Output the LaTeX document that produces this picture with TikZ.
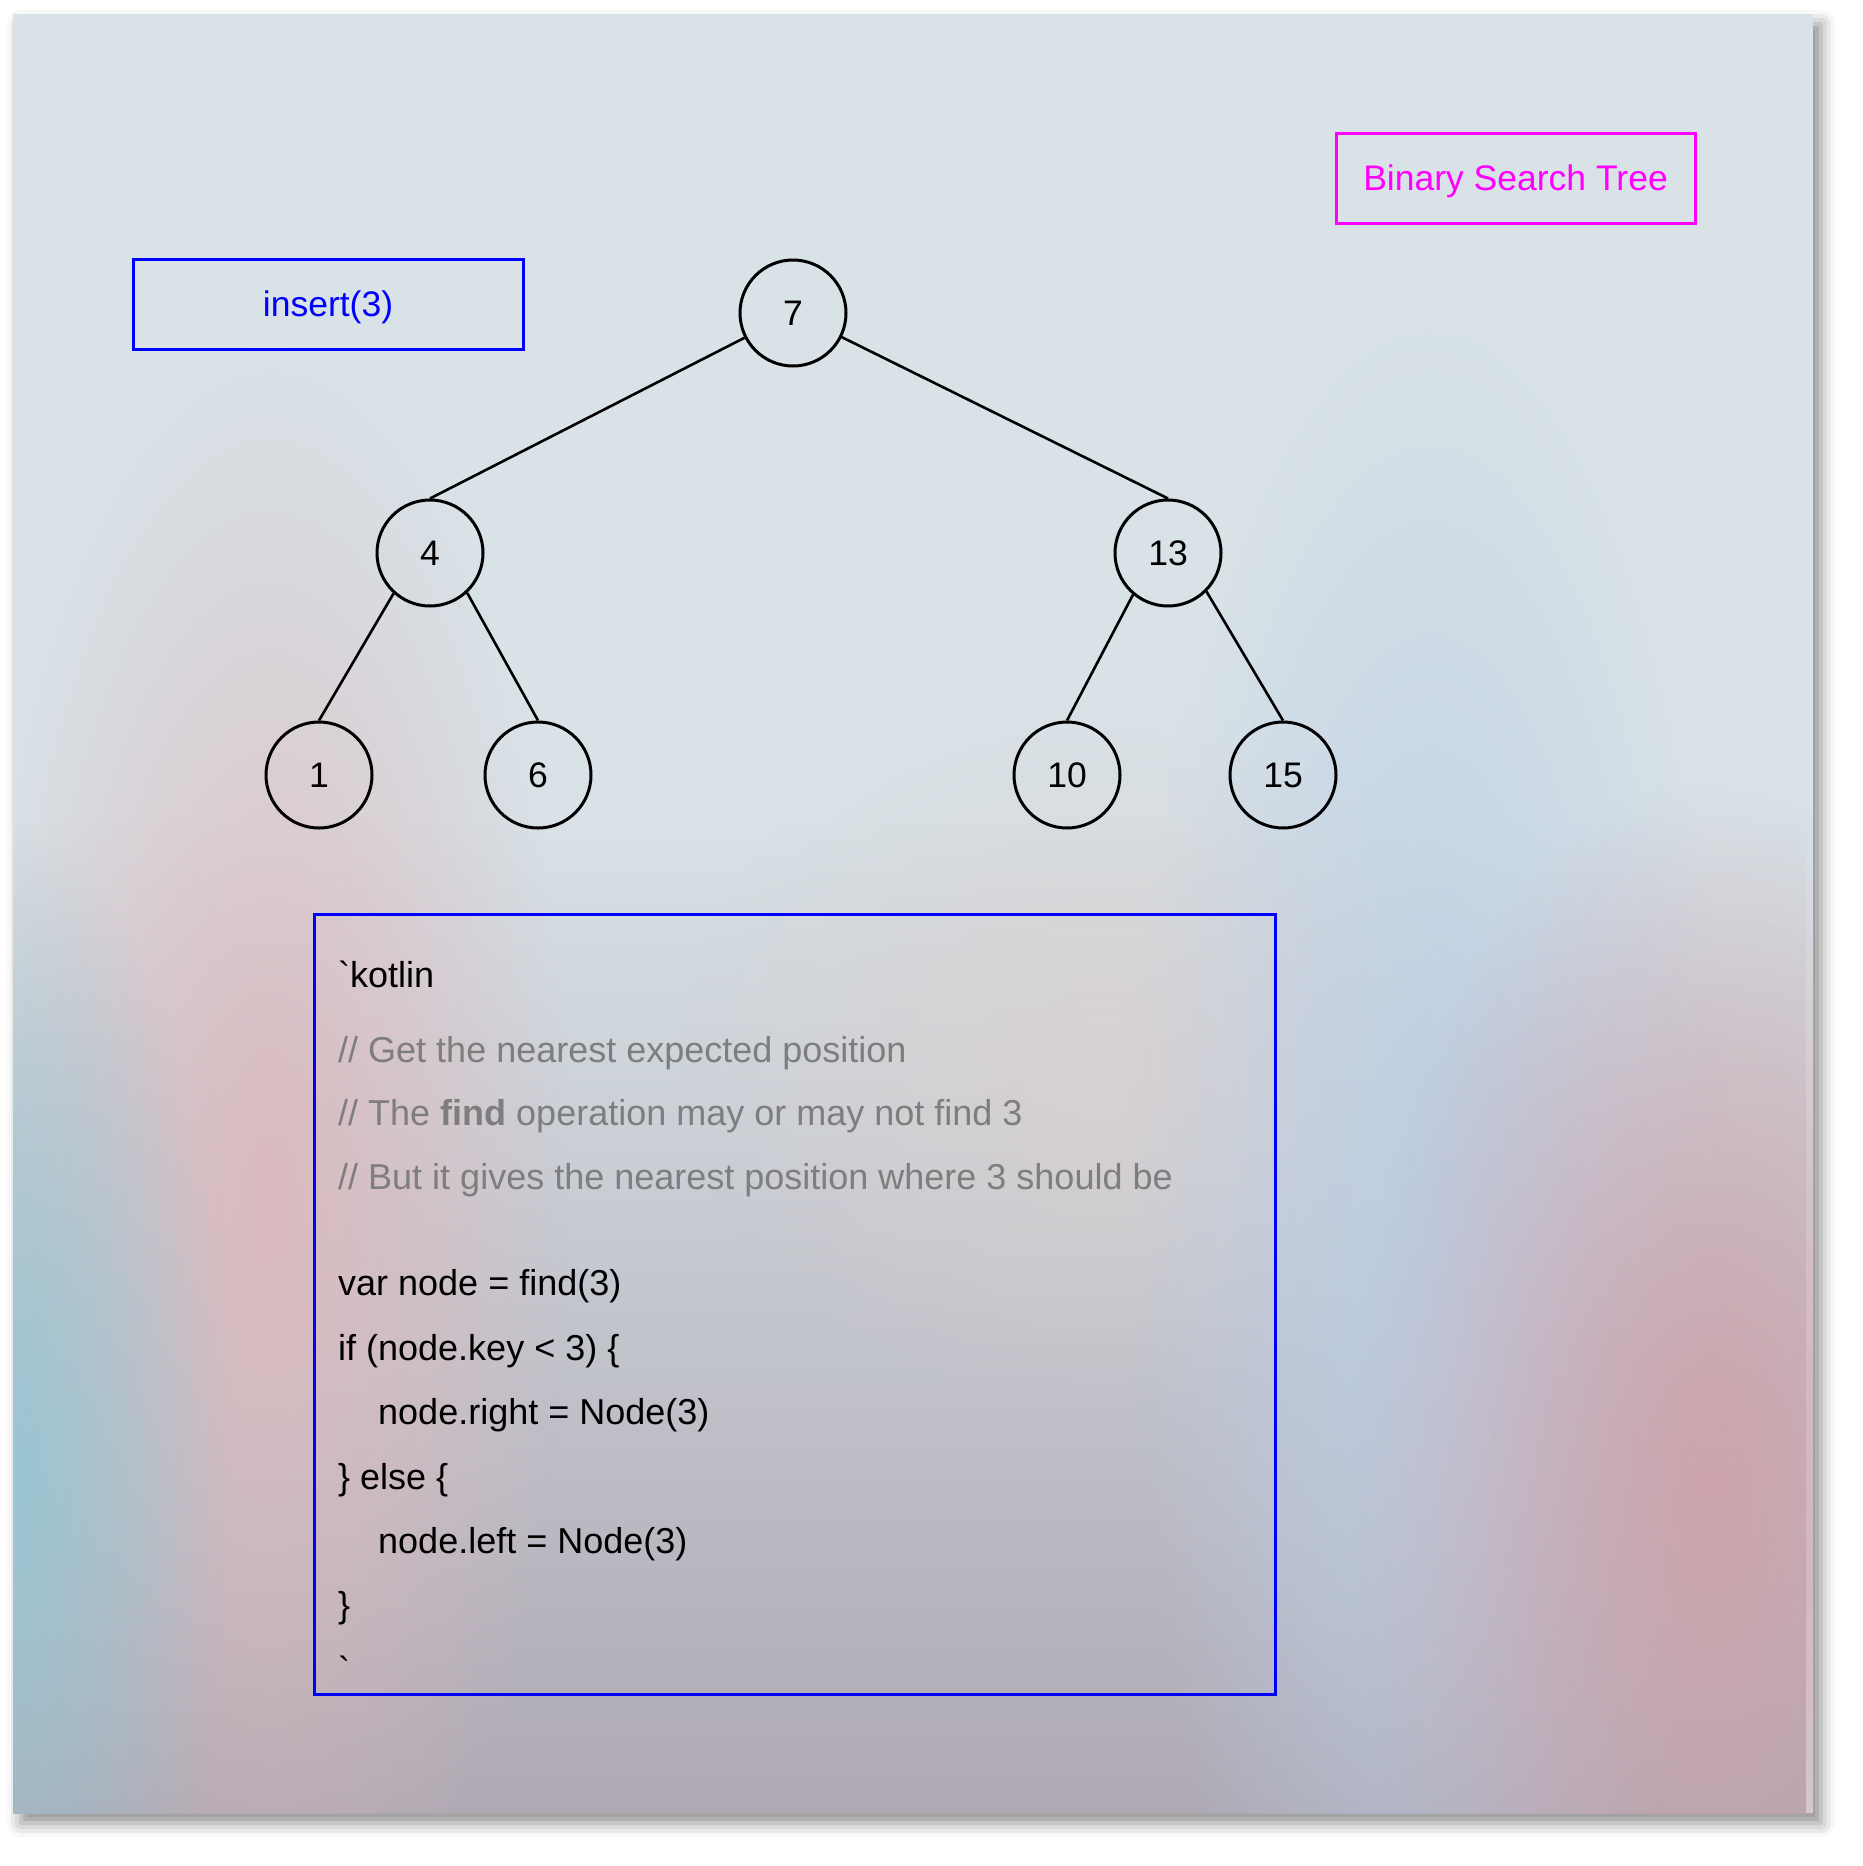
\documentclass[tikz,border=0pt]{standalone}
\usepackage{fontspec}
\newfontfamily\hv{Liberation Sans}
\usetikzlibrary{shadows.blur,fadings}
\definecolor{bgtop}{HTML}{D8E2E7}
\definecolor{bgbot}{HTML}{ABA4AF}
\definecolor{blobpink}{HTML}{DDB9BD}
\definecolor{blobcyan}{HTML}{9AC6D3}
\definecolor{blobblue}{HTML}{BBCFE6}
\definecolor{blobred}{HTML}{CFA1A9}
\definecolor{blobbeige}{HTML}{DCD0CE}
\definecolor{commentgray}{HTML}{7E7E7E}
\definecolor{bstblue}{HTML}{0000FF}
\definecolor{bstmagenta}{HTML}{FF00FF}
\tikzfading[name=blob, inner color=transparent!0, outer color=transparent!100]
\tikzset{
  txt/.style={font=\hv\fontsize{35.5}{42}\selectfont, inner sep=0pt},
  codetxt/.style={font=\hv\fontsize{36}{43}\selectfont, inner sep=0pt},
  bstnode/.style={txt, circle, draw=black, line width=3pt, minimum size=106pt, text height=25pt, text depth=0pt},
  edge/.style={draw=black, line width=2.6pt},
  labelbox/.style={txt, rectangle, line width=3pt, text height=25.5pt, text depth=0pt},
  codeline/.style={codetxt, anchor=base west, text=black},
  commentline/.style={codetxt, anchor=base west, text=commentgray},
}
\begin{document}
\begin{tikzpicture}[x=1pt,y=-1pt]
\useasboundingbox (0,0) rectangle (1863,1866);
% panel with shadow
\fill[bgtop, blur shadow={shadow xshift=8pt, shadow yshift=-10pt, shadow blur radius=14pt, shadow opacity=45}] (13,14) rectangle (1813,1813);
\begin{scope}
\clip (13,14) rectangle (1813,1813);
\fill[bgbot, path fading=north] (13,820) rectangle (1813,1900);
\fill[blobbeige, path fading=blob, opacity=0.7] (1100,1060) ellipse (420 and 360);
\fill[blobpink, path fading=blob, opacity=0.9] (270,1200) ellipse (300 and 850);
\fill[blobcyan, path fading=blob] (10,1480) ellipse (220 and 650);
\fill[blobblue, path fading=blob, opacity=0.9] (1430,1250) ellipse (300 and 950);
\fill[blobred, path fading=blob, opacity=0.9] (1710,1480) ellipse (360 and 700);
\end{scope}

% label boxes
\node[labelbox, draw=bstblue, text=bstblue, minimum width=390pt, minimum height=90pt] (ins) at (328,304) {insert(3)};
\node[labelbox, draw=bstmagenta, text=bstmagenta, minimum width=359pt, minimum height=90pt] (title) at (1515.5,178) {Binary Search Tree};

% tree
\node[bstnode] (n7) at (793,313) {7};
\node[bstnode] (n4) at (430,553) {4};
\node[bstnode] (n13) at (1168,553) {13};
\node[bstnode] (n1) at (319,775) {1};
\node[bstnode] (n6) at (538,775) {6};
\node[bstnode] (n10) at (1067,775) {10};
\node[bstnode] (n15) at (1283,775) {15};
\draw[edge] (n7) -- (n4.north);
\draw[edge] (n7) -- (n13.north);
\draw[edge] (n4.228) -- (n1.north);
\draw[edge] (n4.313) -- (n6.north);
\draw[edge] (n13.230) -- (n10.north);
\draw[edge] (n13.315) -- (n15.north);

% code box
\node[draw=bstblue, line width=3pt, rectangle, minimum width=961pt, minimum height=780pt, inner sep=0pt, anchor=north west] (code) at (313,913) {};
\node[codeline] (l1) at (338,987) {\symbol{96}kotlin};
\node[commentline] (l2) at (338,1062) {// Get the nearest expected position};
\node[commentline] (l3) at (338,1125) {// The \textbf{find} operation may or may not find 3};
\node[commentline] (l4) at (338,1189) {// But it gives the nearest position where 3 should be};
\node[codeline] (l5) at (338,1295) {var node = find(3)};
\node[codeline] (l6) at (338,1360) {if (node.key < 3) \{};
\node[codeline] (l7) at (378,1424) {node.right = Node(3)};
\node[codeline] (l8) at (338,1489) {\} else \{};
\node[codeline] (l9) at (378,1553) {node.left = Node(3)};
\node[codeline] (l10) at (338,1617) {\}};
\node[codeline] (l11) at (338,1682) {\symbol{96}};
\end{tikzpicture}
\end{document}
